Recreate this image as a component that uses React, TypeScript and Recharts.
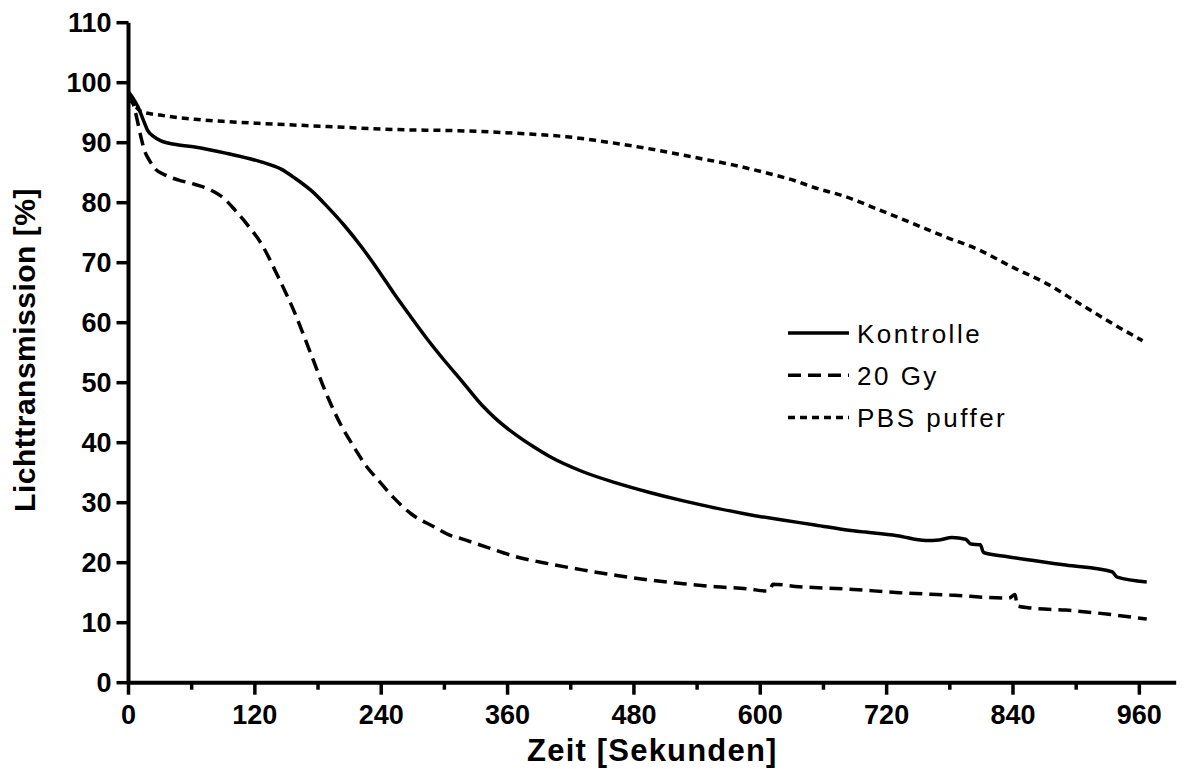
import React from 'react';
import { LineChart, Line, XAxis, YAxis, Legend } from 'recharts';

// ---- data (time in seconds, light transmission in %) ----
const kontrolleT = [0, 4, 9, 14, 18, 24, 31, 45, 63, 94, 126, 145, 158, 175, 189, 205, 221, 237, 252, 268, 284, 300, 316, 336, 350, 368, 384, 400, 431, 463, 495, 527, 558, 590, 621, 652, 684, 700, 730, 757, 770, 782, 795, 800, 809, 812, 835, 858, 890, 934, 939, 967];
const kontrolleV = [98.5, 97.5, 96.0, 93.8, 92.1, 91.0, 90.3, 89.7, 89.3, 88.2, 86.8, 85.6, 84.1, 81.8, 79.3, 76.2, 72.7, 68.8, 64.9, 61.0, 57.2, 53.7, 50.4, 46.2, 43.8, 41.3, 39.4, 37.7, 35.2, 33.3, 31.7, 30.3, 29.1, 28.0, 27.1, 26.3, 25.4, 25.1, 24.5, 23.7, 23.8, 24.2, 23.9, 23.1, 23.0, 21.7, 21.0, 20.4, 19.6, 18.5, 17.6, 16.8];

const gy20T = [0, 3, 6, 9, 12, 15, 20, 25, 35, 47, 60, 78, 90, 101, 113, 126, 142, 158, 173, 189, 201, 214, 225, 237, 252, 268, 290, 305, 316, 340, 368, 400, 431, 463, 495, 527, 558, 590, 605, 609, 612, 637, 684, 732, 780, 836, 842, 844, 860, 890, 931, 967];
const gy20V = [98.0, 97.2, 95.5, 93.2, 90.8, 88.8, 87.0, 85.7, 84.6, 83.8, 83.2, 82.1, 80.8, 78.8, 76.3, 73.2, 67.7, 61.6, 54.9, 47.7, 43.2, 39.3, 36.3, 33.8, 30.8, 28.2, 26.0, 24.6, 24.0, 22.6, 21.0, 19.8, 18.8, 17.9, 17.1, 16.5, 16.0, 15.6, 15.3, 15.4, 16.4, 16.0, 15.6, 15.0, 14.6, 14.1, 14.7, 12.8, 12.4, 12.1, 11.4, 10.6];

const pbsT = [0, 4, 8, 12, 30, 63, 95, 126, 189, 252, 322, 384, 416, 447, 479, 510, 542, 574, 605, 634, 650, 681, 713, 744, 776, 808, 839, 871, 903, 934, 963];
const pbsV = [97.5, 96.6, 95.8, 95.2, 94.6, 93.9, 93.5, 93.2, 92.7, 92.2, 91.95, 91.4, 91.0, 90.3, 89.45, 88.5, 87.4, 86.3, 85.0, 83.6, 82.6, 81.0, 78.8, 76.6, 74.3, 72.1, 69.3, 66.6, 63.2, 59.9, 57.0];

const seriesNames = ['Kontrolle', '20 Gy', 'PBS puffer'];
const xTicks = [0, 60, 120, 180, 240, 300, 360, 420, 480, 540, 600, 660, 720, 780, 840, 900, 960];
const yTicks = [0, 10, 20, 30, 40, 50, 60, 70, 80, 90, 100, 110];
const xTitle = 'Zeit [Sekunden]';
const yTitle = 'Lichttransmission [%]';

const toPoints = (t: number[], v: number[]) => t.map((x, i) => ({ t: x, v: v[i] }));

const FONT = '"Liberation Sans", Arial, Helvetica, sans-serif';
const dashes = [undefined, '13 7', '7 5'];
const datasets = [toPoints(kontrolleT, kontrolleV), toPoints(gy20T, gy20V), toPoints(pbsT, pbsV)];

const XTick = (props: any) => {
  const { x, y, payload } = props;
  const major = payload.value % 120 === 0;
  return (
    <g>
      <line x1={x} x2={x} y1={y} y2={y + (major ? 12 : 7)} stroke="#000" strokeWidth={3.5} />
      {major && (
        <text x={x} y={y + 41} textAnchor="middle" fontSize={27} fontWeight="bold" fontFamily={FONT} fill="#000">
          {payload.value}
        </text>
      )}
    </g>
  );
};

const XTitle = (props: any) => {
  const vb = props.viewBox || { x: 128.5, width: 1048, y: 682.7 };
  return (
    <text x={vb.x + vb.width / 2} y={761} textAnchor="middle" fontSize={31} fontWeight="bold" letterSpacing={1.2} fontFamily={FONT} fill="#000">
      {xTitle}
    </text>
  );
};

const YTitle = () => (
  <text x={35} y={350} transform="rotate(-90, 35, 350)" textAnchor="middle" fontSize={30} fontWeight="bold" letterSpacing={0.5} fontFamily={FONT} fill="#000">
    {yTitle}
  </text>
);

const LegendContent = () => (
  <svg width={320} height={130} style={{ overflow: 'visible' }}>
    {seriesNames.map((name, i) => (
      <g key={name}>
        <line x1={8} x2={69} y1={23 + i * 42.3} y2={23 + i * 42.3} stroke="#000" strokeWidth={3.5} strokeDasharray={dashes[i]} />
        <text x={77} y={33 + i * 42} fontSize={26} fontFamily={FONT} letterSpacing={2.5} fill="#000">
          {name}
        </text>
      </g>
    ))}
  </svg>
);

export default function App() {
  return (
    <div style={{ position: 'absolute', left: 0, top: 0, width: 1184, height: 769, background: '#fff' }}>
      <LineChart width={1184} height={769} margin={{ top: 22.7, right: 7.8, left: 0, bottom: 26.3 }}>
        <XAxis
          dataKey="t"
          type="number"
          domain={[0, 995]}
          ticks={xTicks}
          interval={0}
          allowDataOverflow
          height={60}
          stroke="#000"
          strokeWidth={4}
          tickLine={false}
          tickSize={0}
          tickMargin={0}
          tick={<XTick />}
          label={<XTitle />}
        />
        <YAxis
          dataKey="v"
          type="number"
          domain={[0, 110]}
          ticks={yTicks}
          interval={0}
          width={128.5}
          stroke="#000"
          strokeWidth={4}
          tickSize={12}
          tickMargin={5}
          tickLine={{ stroke: '#000', strokeWidth: 3.5 }}
          tick={{ fontSize: 27, fontWeight: 'bold', fill: '#000', fontFamily: FONT }}
          label={<YTitle />}
        />
        <Legend
          verticalAlign="middle"
          align="center"
          layout="horizontal"
          content={<LegendContent />}
          wrapperStyle={{ position: 'absolute', left: 780, top: 310, width: 320, height: 130 }}
        />
        {datasets.map((d, i) => (
          <Line
            key={seriesNames[i]}
            name={seriesNames[i]}
            data={d}
            dataKey="v"
            type="monotone"
            stroke="#000"
            strokeWidth={3.5}
            strokeDasharray={dashes[i]}
            dot={false}
            activeDot={false}
            isAnimationActive={false}
          />
        ))}
      </LineChart>
    </div>
  );
}
